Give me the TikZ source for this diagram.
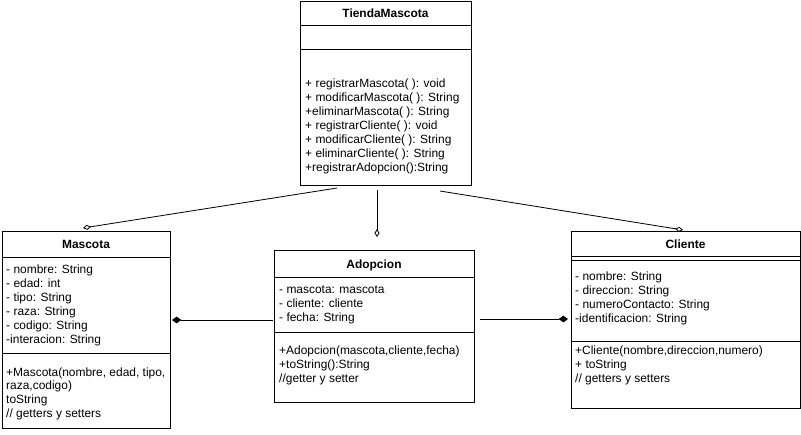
\documentclass[tikz,border=0pt]{standalone}
\usepackage{fontspec}
\setmainfont{Liberation Sans}
\usetikzlibrary{arrows.meta}
\begin{document}
\begin{tikzpicture}[x=0.03cm,y=-0.03cm,
  umlbox/.style={draw=black, line width=0.8pt, inner sep=0pt, anchor=north west},
  sepline/.style={draw=black, line width=0.8pt},
  txt/.style={anchor=base west, inner sep=0pt, font=\fontsize{10.2}{12}\selectfont},
  ttl/.style={anchor=base, inner sep=0pt, font=\fontsize{10.2}{12}\selectfont\bfseries},
  agg/.style={draw=black, line width=0.7pt, -{Diamond[open,length=2.4mm,width=1.5mm,line width=0.7pt]}},
  comp/.style={draw=black, line width=0.7pt, -{Diamond[length=2.8mm,width=2mm]}}]
\useasboundingbox (0,0) rectangle (801,434);

% boxes
\node[umlbox, minimum width=5.13cm, minimum height=5.52cm] (tienda) at (300,1) {};
\node[umlbox, minimum width=5.04cm, minimum height=5.91cm] (mascota) at (2,231) {};
\node[umlbox, minimum width=6.00cm, minimum height=4.56cm] (adopcion) at (274,250) {};
\node[umlbox, minimum width=6.87cm, minimum height=5.31cm] (cliente) at (571,231) {};

% separators
\draw[sepline] (300,25) -- (471,25);
\draw[sepline] (300,49) -- (471,49);
\draw[sepline] (2,257) -- (170,257);
\draw[sepline] (2,353) -- (170,353);
\draw[sepline] (274,277) -- (474,277);
\draw[sepline] (274,332) -- (474,332);
\draw[sepline] (571,256) -- (800,256);
\draw[sepline] (571,260) -- (800,260);
\draw[sepline] (571,341) -- (800,341);

% titles
\node[ttl] (t-tienda) at (385.5,17) {TiendaMascota};
\node[ttl] (t-mascota) at (86,248) {Mascota};
\node[ttl] (t-adopcion) at (374,268) {Adopcion};
\node[ttl] (t-cliente) at (685.5,248) {Cliente};

% TiendaMascota methods
\foreach \t [count=\i] in {+ registrarMascota( ): void, + modificarMascota( ): String, +eliminarMascota( ): String, + registrarCliente( ): void, + modificarCliente( ): String, + eliminarCliente( ): String, +registrarAdopcion():String}
  \node[txt] (tm-\i) at (305,{87+14.1*(\i-1)}) {\t};

% Mascota attributes
\foreach \t [count=\i] in {- nombre: String, - edad: int, - tipo: String, - raza: String, - codigo: String, -interacion: String}
  \node[txt] (ma-\i) at (6,{273+14.1*(\i-1)}) {\t};
% Mascota methods
\foreach \t [count=\i] in {{+Mascota(nombre, edad, tipo,}, {raza,codigo)}, toString, // getters y setters}
  \node[txt] (mm-\i) at (6,{376+13.8*(\i-1)}) {\t};

% Adopcion attributes
\foreach \t [count=\i] in {- mascota: mascota, - cliente: cliente, - fecha: String}
  \node[txt] (aa-\i) at (279,{293+14*(\i-1)}) {\t};
% Adopcion methods
\foreach \t [count=\i] in {{+Adopcion(mascota,cliente,fecha)}, +toString():String, //getter y setter}
  \node[txt] (am-\i) at (279,{354+14*(\i-1)}) {\t};

% Cliente attributes
\foreach \t [count=\i] in {- nombre: String, - direccion: String, - numeroContacto: String, -identificacion: String}
  \node[txt] (ca-\i) at (575,{280+14.3*(\i-1)}) {\t};
% Cliente methods
\foreach \t [count=\i] in {{+Cliente(nombre,direccion,numero)}, + toString, // getters y setters}
  \node[txt] (cm-\i) at (575,{354+14*(\i-1)}) {\t};

% connector end points
\coordinate (tm-left) at (337,188);
\coordinate (ma-top) at (83,228);
\coordinate (tm-mid) at (377,190);
\coordinate (ad-top) at (377,237);
\coordinate (tm-right) at (440,191);
\coordinate (cl-top) at (683,230);
\coordinate (ad-left) at (273,320);
\coordinate (ma-right) at (172,320);
\coordinate (ad-right) at (480,319);
\coordinate (cl-left) at (568,319);

% connectors
\draw[agg] (tm-left) -- (ma-top);
\draw[agg] (tm-mid) -- (ad-top);
\draw[agg] (tm-right) -- (cl-top);
\draw[comp] (ad-left) -- (ma-right);
\draw[comp] (ad-right) -- (cl-left);
\end{tikzpicture}
\end{document}
